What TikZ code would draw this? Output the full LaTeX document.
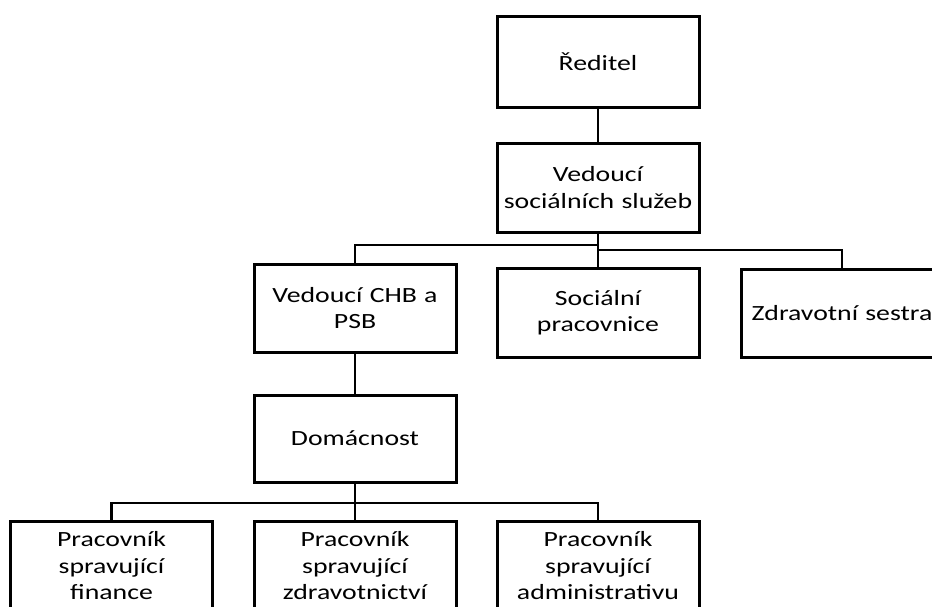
\documentclass[tikz,border=0pt]{standalone}
\usepackage{fontspec}
\newfontfamily\orgfont[FakeStretch=1.28]{Carlito}
\newcommand\orgtext{\orgfont\fontsize{21.7pt}{26.5pt}\selectfont}
\begin{document}
\begin{tikzpicture}[x=1pt,y=-1pt,
  box/.style={draw=black, line width=3pt, fill=white, minimum width=202pt,
    text width=196pt, inner xsep=3pt, align=center, font=\orgtext},
  lowbox/.style={box, anchor=north, text height=18pt, text depth=90pt, inner ysep=7pt},
  link/.style={draw=black, line width=2.5pt}]
\useasboundingbox[fill=white] (0,0) rectangle (932,606);

% management chain
\node[box, minimum height=91pt] (red) at (598,61.5) {Ředitel};
\node[box, minimum height=89pt] (ved) at (598,187.5) {Vedoucí\\sociálních služeb};

% second level
\node[box, minimum height=88pt] (chb) at (355,308) {Vedoucí CHB a\\PSB};
\node[box, minimum height=89pt] (soc) at (598,312.5) {Sociální\\pracovnice};
\node[box, minimum height=88pt] (zdr) at (842,313) {Zdravotní sestra};

% household section
\node[box, minimum height=87pt] (dom) at (355,438.5) {Domácnost};
\node[lowbox] (b1) at (111.5,520) {Pracovník\\spravující\\finance};
\node[lowbox] (b2) at (355,520) {Pracovník\\spravující\\zdravotnictví};
\node[lowbox] (b3) at (598,520) {Pracovník\\spravující\\administrativu};

% connectors
\coordinate (jl) at (598,245);
\coordinate (jr) at (598,250);
\coordinate (jb) at (355,503);
\draw[link] (red.south) -- (ved.north);
\draw[link] (ved.south) -- (soc.north);
\draw[link] (jl) -| (chb.north);
\draw[link] (jr) -| (zdr.north);
\draw[link] (chb.south) -- (dom.north);
\draw[link] (dom.south) -- (b2.north);
\draw[link] (jb) -| (b1.north);
\draw[link] (jb) -| (b3.north);
\end{tikzpicture}
\end{document}
